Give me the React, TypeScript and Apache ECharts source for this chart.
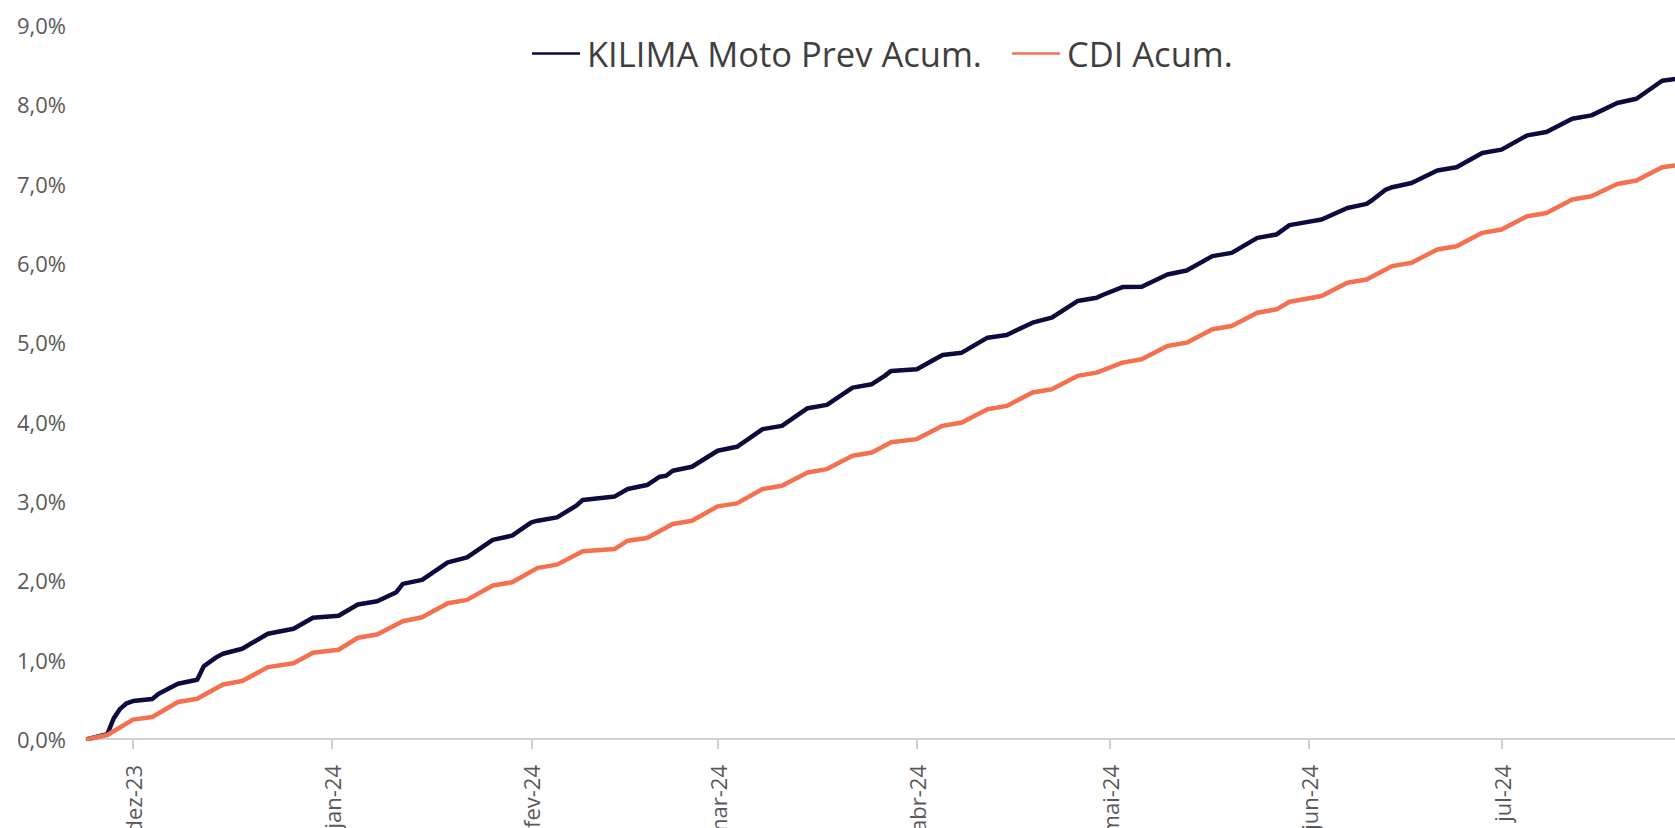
import React, { useEffect, useRef } from "react";
import * as echarts from "echarts";

const START_DATE = "2023-11-24";
const END_DATE = "2024-07-28";
const MONTH_ABBR = ["jan", "fev", "mar", "abr", "mai", "jun", "jul", "ago", "set", "out", "nov", "dez"];
const Y_TICKS_MAX = 9;

const SERIES_NAMES = ["KILIMA Moto Prev Acum.", "CDI Acum."];

const kilimaDates = [
  "2023-11-24", "2023-11-27", "2023-11-28", "2023-11-29", "2023-11-30", "2023-12-01", "2023-12-04", "2023-12-05",
  "2023-12-08", "2023-12-11", "2023-12-12", "2023-12-14", "2023-12-15", "2023-12-18", "2023-12-22", "2023-12-26",
  "2023-12-29", "2024-01-02", "2024-01-05", "2024-01-08", "2024-01-11", "2024-01-12", "2024-01-15", "2024-01-19",
  "2024-01-22", "2024-01-26", "2024-01-29", "2024-02-01", "2024-02-02", "2024-02-05", "2024-02-08", "2024-02-09",
  "2024-02-14", "2024-02-16", "2024-02-19", "2024-02-21", "2024-02-22", "2024-02-23", "2024-02-26", "2024-03-01",
  "2024-03-04", "2024-03-08", "2024-03-11", "2024-03-15", "2024-03-18", "2024-03-22", "2024-03-25", "2024-03-27",
  "2024-03-28", "2024-04-01", "2024-04-05", "2024-04-08", "2024-04-12", "2024-04-15", "2024-04-19", "2024-04-22",
  "2024-04-26", "2024-04-29", "2024-04-30", "2024-05-03", "2024-05-06", "2024-05-10", "2024-05-13", "2024-05-17",
  "2024-05-20", "2024-05-24", "2024-05-27", "2024-05-29", "2024-05-31", "2024-06-03", "2024-06-07", "2024-06-10",
  "2024-06-11", "2024-06-13", "2024-06-14", "2024-06-17", "2024-06-21", "2024-06-24", "2024-06-28", "2024-07-01",
  "2024-07-05", "2024-07-08", "2024-07-12", "2024-07-15", "2024-07-19", "2024-07-22", "2024-07-26", "2024-07-28",
];
const kilimaValues = [
  0.0, 0.06, 0.26, 0.38, 0.45, 0.478, 0.503, 0.571,
  0.697, 0.747, 0.915, 1.032, 1.075, 1.138, 1.326, 1.389,
  1.528, 1.553, 1.695, 1.737, 1.85, 1.955, 2.006, 2.227,
  2.29, 2.51, 2.563, 2.731, 2.752, 2.794, 2.941, 3.012,
  3.058, 3.151, 3.201, 3.306, 3.318, 3.381, 3.432, 3.633,
  3.683, 3.906, 3.947, 4.17, 4.212, 4.429, 4.472, 4.577,
  4.64, 4.661, 4.841, 4.87, 5.059, 5.093, 5.248, 5.311,
  5.52, 5.562, 5.6, 5.696, 5.7, 5.856, 5.906, 6.087,
  6.128, 6.317, 6.36, 6.477, 6.506, 6.548, 6.694, 6.745,
  6.8, 6.926, 6.955, 7.009, 7.165, 7.207, 7.387, 7.429,
  7.609, 7.651, 7.819, 7.861, 8.016, 8.07, 8.297, 8.32,
];

const cdiDates = [
  "2023-11-24", "2023-11-27", "2023-12-01", "2023-12-04", "2023-12-08", "2023-12-11", "2023-12-15", "2023-12-18",
  "2023-12-22", "2023-12-26", "2023-12-29", "2024-01-02", "2024-01-05", "2024-01-08", "2024-01-12", "2024-01-15",
  "2024-01-19", "2024-01-22", "2024-01-26", "2024-01-29", "2024-02-02", "2024-02-05", "2024-02-09", "2024-02-14",
  "2024-02-16", "2024-02-19", "2024-02-23", "2024-02-26", "2024-03-01", "2024-03-04", "2024-03-08", "2024-03-11",
  "2024-03-15", "2024-03-18", "2024-03-22", "2024-03-25", "2024-03-28", "2024-04-01", "2024-04-05", "2024-04-08",
  "2024-04-12", "2024-04-15", "2024-04-19", "2024-04-22", "2024-04-26", "2024-04-29", "2024-05-03", "2024-05-06",
  "2024-05-10", "2024-05-13", "2024-05-17", "2024-05-20", "2024-05-24", "2024-05-27", "2024-05-29", "2024-05-31",
  "2024-06-03", "2024-06-07", "2024-06-10", "2024-06-14", "2024-06-17", "2024-06-21", "2024-06-24", "2024-06-28",
  "2024-07-01", "2024-07-05", "2024-07-08", "2024-07-12", "2024-07-15", "2024-07-19", "2024-07-22", "2024-07-26",
  "2024-07-28",
];
const cdiValues = [
  0.0, 0.05, 0.244, 0.277, 0.466, 0.508, 0.688, 0.73,
  0.906, 0.956, 1.087, 1.125, 1.276, 1.317, 1.485, 1.535,
  1.711, 1.754, 1.934, 1.976, 2.157, 2.198, 2.366, 2.396,
  2.5, 2.534, 2.71, 2.752, 2.932, 2.97, 3.151, 3.192,
  3.36, 3.402, 3.57, 3.611, 3.74, 3.78, 3.947, 3.989,
  4.157, 4.199, 4.367, 4.409, 4.577, 4.618, 4.744, 4.786,
  4.954, 4.996, 5.164, 5.206, 5.373, 5.416, 5.512, 5.541,
  5.583, 5.751, 5.793, 5.961, 6.002, 6.171, 6.212, 6.38,
  6.422, 6.59, 6.631, 6.8, 6.842, 6.996, 7.039, 7.206,
  7.23,
];

function buildDays(start: string, end: string): string[] {
  const out: string[] = [];
  const d = new Date(start + "T00:00:00Z");
  const e = new Date(end + "T00:00:00Z");
  while (d.getTime() <= e.getTime()) {
    out.push(d.toISOString().slice(0, 10));
    d.setUTCDate(d.getUTCDate() + 1);
  }
  return out;
}

const isMonthStart = (s: string) => s.slice(8, 10) === "01";

export default function App() {
  const ref = useRef<HTMLDivElement>(null);
  useEffect(() => {
    document.body.style.margin = "0";
    if (!ref.current) return;
    const chart = echarts.init(ref.current, null, { renderer: "svg" });
    const days = buildDays(START_DATE, END_DATE);
    const font = "'Open Sans', sans-serif";
    chart.setOption({
      animation: false,
      backgroundColor: "#ffffff",
      legend: {
        left: 527,
        top: 31,
        itemWidth: 48,
        itemHeight: 14,
        itemGap: 30,
        icon: "path://M0,6 L48,6 L48,8.5 L0,8.5 Z",
        textStyle: { fontFamily: font, fontSize: 34.5, color: "#3f3f3f", padding: [0, 0, 0, 2] },
        data: SERIES_NAMES,
      },
      grid: { left: 88, right: 0, top: 25, bottom: 89, containLabel: false, outerBoundsMode: "none" },
      xAxis: {
        type: "category",
        data: days,
        boundaryGap: false,
        axisLine: { show: true, lineStyle: { color: "#d0d0d0", width: 2 } },
        axisTick: {
          show: true,
          length: 10,
          interval: (_i: number, v: string) => isMonthStart(v),
          lineStyle: { color: "#d0d0d0", width: 2 },
        },
        axisLabel: {
          interval: (_i: number, v: string) => isMonthStart(v),
          rotate: 90,
          margin: 26,
          fontFamily: font,
          fontSize: 22,
          color: "#595959",
          formatter: (v: string) => `${MONTH_ABBR[parseInt(v.slice(5, 7), 10) - 1]}-${v.slice(2, 4)}`,
        },
        splitLine: { show: false },
      },
      yAxis: {
        type: "value",
        min: 0,
        max: Y_TICKS_MAX,
        interval: 1,
        axisLine: { show: false },
        axisTick: { show: false },
        splitLine: { show: false },
        axisLabel: {
          margin: 22,
          fontFamily: font,
          fontSize: 22,
          color: "#595959",
          formatter: (v: number) => v.toFixed(1).replace(".", ",") + "%",
        },
      },
      series: [
        {
          name: SERIES_NAMES[0],
          type: "line",
          showSymbol: false,
          symbol: "none",
          data: kilimaDates.map((d, i) => [d, kilimaValues[i]]),
          lineStyle: { color: "#0b0b3d", width: 4.5, join: "round", cap: "round" },
          itemStyle: { color: "#0b0b3d" },
        },
        {
          name: SERIES_NAMES[1],
          type: "line",
          showSymbol: false,
          symbol: "none",
          data: cdiDates.map((d, i) => [d, cdiValues[i]]),
          lineStyle: { color: "#f4704f", width: 4.5, join: "round", cap: "round" },
          itemStyle: { color: "#f4704f" },
        },
      ],
    });
    return () => chart.dispose();
  }, []);
  return <div ref={ref} style={{ position: "absolute", left: 0, top: 0, width: 1675, height: 828 }} />;
}
